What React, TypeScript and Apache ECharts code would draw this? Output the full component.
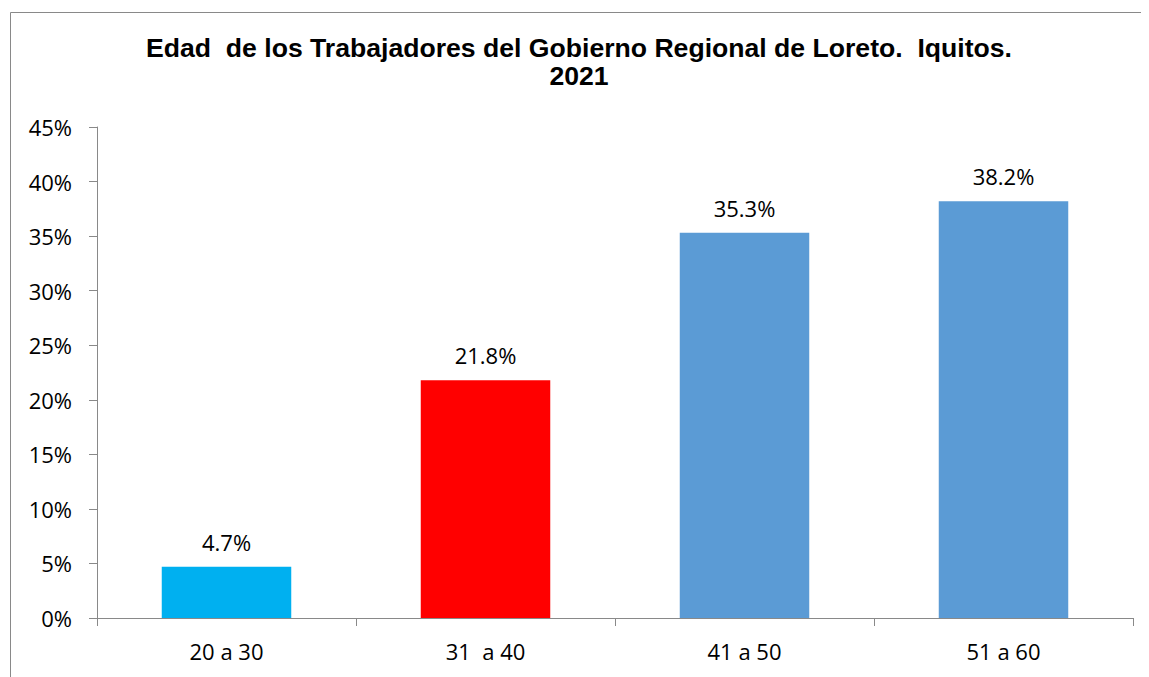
import React, { useEffect, useRef } from "react";
import * as echarts from "echarts";

const categories = ["20 a 30", "31  a 40", "41 a 50", "51 a 60"];
const values = [4.7, 21.8, 35.3, 38.2];
const barColors = ["#00B0F0", "#FF0000", "#5B9BD5", "#5B9BD5"];
const titleText = "Edad  de los Trabajadores del Gobierno Regional de Loreto.  Iquitos.\n2021";

export default function App() {
  const ref = useRef<HTMLDivElement>(null);
  useEffect(() => {
    if (!ref.current) return;
    const chart = echarts.init(ref.current, undefined, { renderer: "svg" });
    const labelFont = "Open Sans, Lato, sans-serif";
    chart.setOption({
      animation: false,
      backgroundColor: "#ffffff",
      title: {
        text: titleText,
        left: 566,
        top: 21,
        textAlign: "center",
        textStyle: {
          fontFamily: "Liberation Sans, Arial, sans-serif",
          fontWeight: "bold",
          fontSize: 26.6,
          lineHeight: 28,
          color: "#000000",
        },
      },
      graphic: [
        {
          type: "rect",
          shape: { x: 2.5, y: 4.5, width: 2000, height: 2000 },
          style: { fill: "none", stroke: "#898989", lineWidth: 1 },
          silent: true,
        },
      ],
      grid: { left: 89, right: 16, top: 119, bottom: 59 },
      xAxis: {
        type: "category",
        data: categories,
        axisLine: { lineStyle: { color: "#898989", width: 1 } },
        axisTick: { show: true, length: 8, lineStyle: { color: "#898989" } },
        axisLabel: { color: "#000000", fontFamily: labelFont, fontSize: 22, margin: 22 },
      },
      yAxis: {
        type: "value",
        min: 0,
        max: 45,
        interval: 5,
        axisLine: { show: true, lineStyle: { color: "#898989", width: 1 } },
        axisTick: { show: true, length: 8, lineStyle: { color: "#898989" } },
        splitLine: { show: false },
        axisLabel: {
          color: "#000000",
          fontFamily: labelFont,
          fontSize: 22,
          margin: 25,
          formatter: "{value}%",
        },
      },
      series: [
        {
          type: "bar",
          barWidth: "50%",
          data: values.map((v, i) => ({ value: v, itemStyle: { color: barColors[i] } })),
          label: {
            show: true,
            position: "top",
            distance: 14,
            color: "#000000",
            fontFamily: labelFont,
            fontSize: 22,
            formatter: (p: any) => Number(p.value).toFixed(1) + "%",
          },
        },
      ],
    });
    return () => chart.dispose();
  }, []);
  return <div ref={ref} style={{ width: 1141, height: 669 }} />;
}
